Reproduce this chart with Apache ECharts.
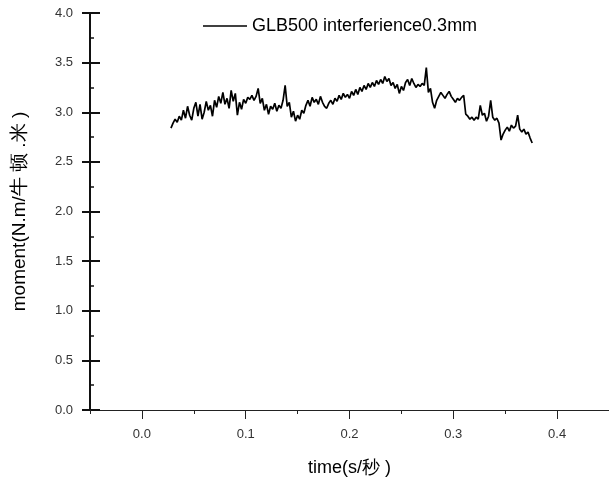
<!DOCTYPE html>
<html>
<head>
<meta charset="utf-8">
<script src="https://cdn.jsdelivr.net/npm/echarts@6/dist/echarts.min.js"></script>
<style>html,body{margin:0;padding:0;background:#fff;}#c{width:609px;height:482px;}</style>
</head>
<body>
<div id="c"></div>
<script>
const seriesName = 'GLB500 interferience0.3mm';
const xTicks = [0.0, 0.1, 0.2, 0.3, 0.4];
const xMinorTicks = [-0.05, 0.05, 0.15, 0.25, 0.35, 0.45];
const times = [0.028,0.030,0.032,0.034,0.036,0.038,0.040,0.042,0.044,0.046,0.048,0.050,0.052,0.054,0.056,0.058,0.060,0.062,0.064,0.066,0.068,0.070,0.072,0.074,0.076,0.078,0.080,0.082,0.084,0.086,0.088,0.090,0.092,0.094,0.096,0.098,0.100,0.102,0.104,0.106,0.108,0.110,0.112,0.114,0.116,0.118,0.120,0.122,0.124,0.126,0.128,0.130,0.132,0.134,0.136,0.138,0.140,0.142,0.144,0.146,0.148,0.150,0.152,0.154,0.156,0.158,0.160,0.162,0.164,0.166,0.168,0.170,0.172,0.174,0.176,0.178,0.180,0.182,0.184,0.186,0.188,0.190,0.192,0.194,0.196,0.198,0.200,0.202,0.204,0.206,0.208,0.210,0.212,0.214,0.216,0.218,0.220,0.222,0.224,0.226,0.228,0.230,0.232,0.234,0.236,0.238,0.240,0.242,0.244,0.246,0.248,0.250,0.252,0.254,0.256,0.258,0.260,0.262,0.264,0.266,0.268,0.270,0.272,0.274,0.276,0.278,0.280,0.282,0.284,0.286,0.288,0.290,0.292,0.294,0.296,0.298,0.300,0.302,0.304,0.306,0.308,0.310,0.312,0.314,0.316,0.318,0.320,0.322,0.324,0.326,0.328,0.330,0.332,0.334,0.336,0.338,0.340,0.342,0.344,0.346,0.348,0.350,0.352,0.354,0.356,0.358,0.360,0.362,0.364,0.366,0.368,0.370,0.372,0.374,0.376];
const moment = [2.84,2.89,2.93,2.90,2.96,2.92,3.02,2.94,3.06,2.97,2.92,3.04,3.10,2.96,3.08,2.93,3.00,3.11,3.02,3.07,2.96,3.12,3.05,3.16,3.09,3.20,3.08,3.14,3.04,3.22,3.11,3.19,2.97,3.10,3.03,3.13,3.09,3.15,3.13,3.17,3.12,3.16,3.24,3.09,3.14,3.02,3.08,2.98,3.06,3.03,3.09,3.01,3.07,3.04,3.12,3.27,3.06,3.10,2.95,3.01,2.91,2.97,2.93,3.02,2.99,3.07,3.12,3.06,3.15,3.10,3.13,3.08,3.16,3.10,3.06,3.04,3.09,3.12,3.08,3.14,3.11,3.17,3.13,3.19,3.15,3.18,3.14,3.21,3.17,3.23,3.18,3.25,3.21,3.27,3.23,3.29,3.25,3.30,3.26,3.32,3.28,3.33,3.29,3.36,3.31,3.34,3.27,3.30,3.24,3.28,3.19,3.26,3.22,3.30,3.33,3.27,3.34,3.29,3.25,3.28,3.26,3.29,3.27,3.45,3.20,3.24,3.10,3.04,3.12,3.16,3.20,3.17,3.14,3.18,3.21,3.16,3.13,3.10,3.14,3.12,3.15,3.17,2.98,2.96,2.93,2.95,2.92,2.95,2.93,3.07,2.97,2.99,2.91,2.96,3.12,2.95,2.92,2.94,2.89,2.72,2.78,2.82,2.85,2.81,2.87,2.84,2.86,2.97,2.83,2.80,2.83,2.78,2.80,2.74,2.69];

const data = times.map((t, i) => [t, moment[i]]);
const font = '"Liberation Sans", Arial, sans-serif';
const chart = echarts.init(document.getElementById('c'), null, {renderer: 'canvas'});
chart.setOption({
  animation: false,
  backgroundColor: '#fff',
  legend: {
    data: [{name: seriesName, icon: 'rect'}],
    left: 198, top: 12,
    itemWidth: 44, itemHeight: 1.5, itemGap: 4,
    textStyle: {fontFamily: font, fontSize: 18, color: '#000'}
  },
  grid: {left: 90, top: 13, width: 520, height: 399, containLabel: false},
  xAxis: [{
    type: 'value', min: -0.05, max: 0.45,
    name: 'time(s/秒 )', nameLocation: 'middle', nameGap: 49,
    nameTextStyle: {fontFamily: font, fontSize: 18, color: '#000'},
    splitLine: {show: false},
    axisLine: {show: true, onZero: false, lineStyle: {color: '#222', width: 1}},
    axisTick: {show: true, customValues: xTicks, length: 9, lineStyle: {color: '#222', width: 1}},
    axisLabel: {customValues: xTicks, margin: 18, formatter: v => v.toFixed(1), fontFamily: font, fontSize: 13, color: '#333'}
  }, {
    type: 'value', min: -0.05, max: 0.45, position: 'bottom',
    splitLine: {show: false},
    axisLine: {show: false, onZero: false},
    axisTick: {show: true, customValues: xMinorTicks, length: 4, lineStyle: {color: '#222', width: 1}},
    axisLabel: {show: false}
  }],
  yAxis: [{
    type: 'value', min: 0, max: 4, interval: 0.5,
    name: 'moment(N.m/牛 顿 .米 )', nameLocation: 'middle', nameGap: 61,
    nameTextStyle: {fontFamily: font, fontSize: 19, color: '#000'},
    splitLine: {show: false},
    axisLine: {show: true, onZero: false, lineStyle: {color: '#111', width: 2}},
    axisTick: {show: true, length: 8, lineStyle: {color: '#111', width: 2}},
    axisLabel: {margin: 17, formatter: v => v.toFixed(1), fontFamily: font, fontSize: 13, color: '#333'}
  }, {
    type: 'value', min: 0, max: 4, interval: 0.5, position: 'left',
    splitLine: {show: false},
    axisLine: {show: false, onZero: false},
    axisTick: {show: true, inside: true, length: 10, lineStyle: {color: '#111', width: 2}},
    minorTick: {show: true, splitNumber: 2, length: 4, lineStyle: {color: '#111', width: 1.5}},
    axisLabel: {show: false}
  }],
  series: [{
    name: seriesName, type: 'line', data: data,
    xAxisIndex: 0, yAxisIndex: 0,
    symbol: 'none', lineStyle: {color: '#000', width: 1.7}, itemStyle: {color: '#000'}
  }]
});
</script>
</body>
</html>
